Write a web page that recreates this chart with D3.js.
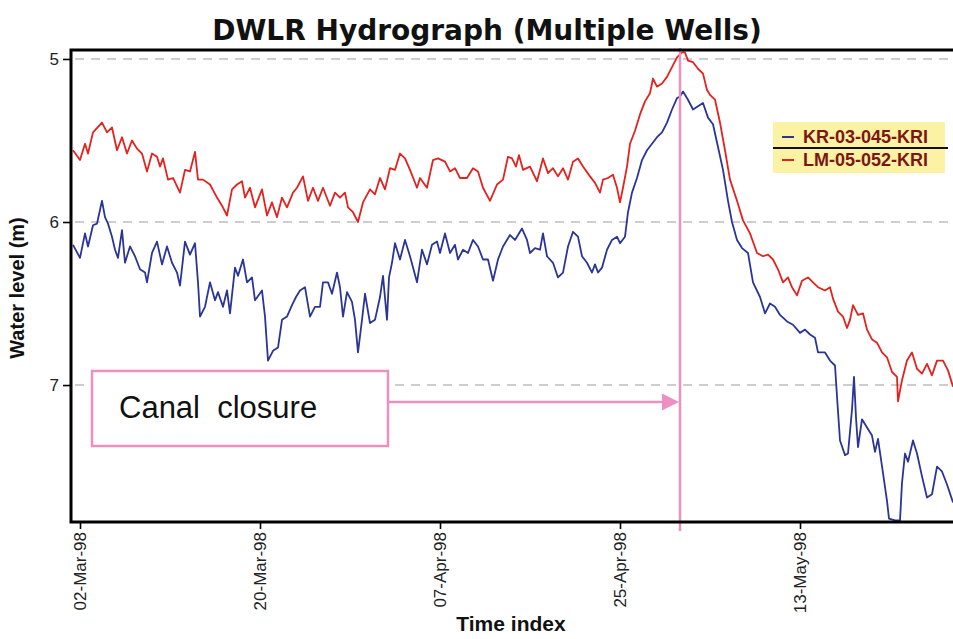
<!DOCTYPE html>
<html>
<head>
<meta charset="utf-8">
<script src="https://cdn.jsdelivr.net/npm/d3@7"></script>
<style>
  body { margin: 0; background: #fff; }
  svg { display: block; }
  .tick text { font-family: "Liberation Sans", Arial, sans-serif; }
</style>
</head>
<body>
<script>
// DWLR hydrograph, two wells, with the canal closure marker
(function() {
  var width  = 953,
      height = 639,
      left   = 71,
      top    = 50,
      right  = 953,
      bottom = 522;

  // Wells shown in the legend
  var wellNames  = ["KR-03-045-KRI", "LM-05-052-KRI"],
      wellColors = ["#2a3596", "#e3221f"];

  // Time index ticks and the closure date
  var tickDates   = ["1998-03-02", "1998-03-20", "1998-04-07", "1998-04-25", "1998-05-13"],
      closureDate = "1998-05-01",
      levelTicks  = [5, 6, 7];

  // KR-03-045-KRI : days after 02-Mar-98 and water level (m)
  var kriDay = [
    -0.7, 0.0, 0.5, 0.8, 1.3, 1.7, 2.2, 2.5, 2.8, 3.2,
    3.5, 3.8, 4.2, 4.5, 5.0, 5.5, 6.0, 6.5, 6.7, 7.2,
    7.7, 8.2, 8.7, 9.2, 9.7, 10.0, 10.5, 11.0, 11.5, 11.8,
    12.0, 12.5, 13.0, 13.5, 13.8, 14.3, 14.7, 15.0, 15.5, 15.8,
    16.3, 16.7, 17.2, 17.5, 18.2, 18.5, 18.8, 19.3, 19.8, 20.2,
    20.7, 21.2, 21.6, 22.0, 22.5, 23.0, 23.5, 24.0, 24.3, 24.8,
    25.2, 25.7, 26.0, 26.3, 26.7, 27.2, 27.5, 27.8, 28.2, 28.5,
    29.0, 29.5, 30.0, 30.3, 30.7, 30.9, 31.2, 31.5, 32.0, 32.5,
    33.0, 33.7, 34.2, 34.7, 35.2, 35.7, 36.0, 36.5, 37.0, 37.5,
    37.8, 38.3, 38.8, 39.3, 39.8, 40.3, 40.8, 41.3, 41.8, 42.3,
    43.0, 43.5, 44.0, 44.2, 44.7, 45.0, 45.5, 46.0, 46.3, 46.7,
    47.3, 47.8, 48.3, 48.8, 49.3, 49.8, 50.2, 50.7, 51.2, 51.5,
    51.8, 52.2, 52.7, 53.2, 53.7, 54.0, 54.5, 54.8, 55.2, 55.7,
    56.2, 56.7, 57.2, 57.7, 58.2, 58.7, 59.2, 59.7, 60.0, 60.3,
    60.8, 61.3, 61.8, 62.3, 62.8, 63.3, 63.8, 64.3, 64.8, 65.2,
    65.7, 66.2, 66.8, 67.3, 68.0, 68.5, 69.0, 69.5, 70.0, 70.7,
    71.3, 72.0, 72.5, 73.0, 73.5, 73.8, 74.5, 75.0, 75.5, 75.7,
    76.0, 76.5, 76.8, 77.2, 77.4, 77.6, 77.8, 78.2, 78.7, 79.2,
    79.5, 79.8, 80.3, 80.7, 80.9, 81.5, 82.0, 82.2, 82.5, 82.8,
    83.3, 83.7, 84.2, 84.7, 85.2, 85.7, 86.2, 86.7, 87.3
  ];
  var kriLevel = [
    6.14, 6.22, 6.07, 6.15, 6.02, 6.01, 5.87, 5.97, 6.01, 6.09,
    6.17, 6.22, 6.05, 6.25, 6.15, 6.21, 6.29, 6.31, 6.37, 6.19,
    6.12, 6.26, 6.15, 6.25, 6.31, 6.39, 6.12, 6.20, 6.13, 6.37,
    6.58, 6.52, 6.37, 6.48, 6.43, 6.52, 6.42, 6.56, 6.28, 6.33,
    6.23, 6.37, 6.34, 6.48, 6.42, 6.58, 6.85, 6.79, 6.77, 6.60,
    6.58, 6.51, 6.46, 6.42, 6.40, 6.58, 6.52, 6.52, 6.37, 6.37,
    6.44, 6.31, 6.40, 6.58, 6.43, 6.49, 6.60, 6.80, 6.60, 6.44,
    6.62, 6.60, 6.46, 6.33, 6.60, 6.34, 6.25, 6.13, 6.23, 6.11,
    6.21, 6.37, 6.17, 6.26, 6.14, 6.12, 6.19, 6.07, 6.19, 6.14,
    6.23, 6.17, 6.19, 6.11, 6.15, 6.23, 6.23, 6.36, 6.23, 6.15,
    6.08, 6.11, 6.06, 6.04, 6.11, 6.19, 6.16, 6.17, 6.07, 6.21,
    6.25, 6.34, 6.31, 6.15, 6.06, 6.09, 6.21, 6.25, 6.31, 6.26,
    6.31, 6.28, 6.17, 6.11, 6.09, 6.13, 6.09, 5.94, 5.82, 5.73,
    5.62, 5.56, 5.52, 5.48, 5.45, 5.39, 5.31, 5.24, 5.23, 5.20,
    5.25, 5.31, 5.29, 5.27, 5.36, 5.40, 5.54, 5.68, 5.87, 6.00,
    6.11, 6.16, 6.19, 6.37, 6.46, 6.56, 6.50, 6.52, 6.57, 6.61,
    6.63, 6.68, 6.66, 6.69, 6.71, 6.80, 6.80, 6.85, 6.88, 7.07,
    7.34, 7.43, 7.42, 7.15, 6.95, 7.20, 7.38, 7.21, 7.26, 7.31,
    7.41, 7.33, 7.54, 7.71, 7.82, 7.83, 7.83, 7.60, 7.42, 7.47,
    7.34, 7.42, 7.56, 7.69, 7.67, 7.50, 7.53, 7.61, 7.72
  ];

  // LM-05-052-KRI : days after 02-Mar-98 and water level (m)
  var lmDay = [
    -0.7, 0.0, 0.5, 0.8, 1.3, 2.2, 2.7, 3.2, 3.7, 4.2,
    4.7, 5.2, 5.7, 6.2, 6.7, 7.2, 7.7, 8.0, 8.3, 8.8,
    9.3, 10.0, 10.5, 11.0, 11.5, 11.8, 12.3, 13.0, 13.7, 14.2,
    14.7, 15.2, 15.7, 16.2, 16.5, 17.0, 17.5, 18.2, 18.7, 19.2,
    19.7, 20.2, 20.7, 21.3, 21.7, 22.3, 22.8, 23.3, 23.8, 24.3,
    25.0, 25.5, 26.0, 26.5, 26.8, 27.3, 27.8, 28.3, 29.0, 29.5,
    30.0, 30.5, 31.0, 31.5, 32.0, 32.5, 33.0, 33.7, 34.0, 34.7,
    35.3, 35.8, 36.5, 37.0, 37.5, 38.0, 38.7, 39.3, 39.8, 40.3,
    41.0, 41.7, 42.3, 42.8, 43.2, 43.6, 43.9, 44.3, 45.0, 45.7,
    46.3, 46.8, 47.3, 47.8, 48.3, 48.8, 49.3, 49.8, 50.3, 51.0,
    51.5, 52.0, 52.3, 52.8, 53.3, 53.7, 54.0, 54.3, 54.7, 55.0,
    55.5, 56.0, 56.5, 57.0, 57.3, 57.7, 58.2, 58.7, 59.2, 59.7,
    60.2, 60.5, 60.8, 61.3, 61.8, 62.3, 62.7, 63.0, 63.5, 64.0,
    64.5, 65.0, 65.7, 66.3, 67.0, 67.7, 68.3, 68.8, 69.3, 69.8,
    70.3, 70.8, 71.2, 71.7, 72.2, 72.8, 73.3, 73.8, 74.5, 75.0,
    75.3, 75.8, 76.3, 76.7, 77.0, 77.3, 77.8, 78.3, 78.7, 79.2,
    79.7, 80.2, 80.7, 81.2, 81.7, 81.8, 82.2, 82.7, 83.2, 83.7,
    84.2, 84.7, 85.2, 85.7, 86.3, 86.8, 87.3
  ];
  var lmLevel = [
    5.56, 5.62, 5.52, 5.58, 5.45, 5.39, 5.45, 5.42, 5.56, 5.48,
    5.58, 5.50, 5.55, 5.58, 5.69, 5.58, 5.60, 5.66, 5.61, 5.74,
    5.73, 5.82, 5.68, 5.69, 5.57, 5.74, 5.74, 5.77, 5.85, 5.90,
    5.96, 5.80, 5.77, 5.75, 5.85, 5.79, 5.91, 5.80, 5.96, 5.88,
    5.97, 5.85, 5.91, 5.82, 5.79, 5.72, 5.87, 5.79, 5.87, 5.79,
    5.90, 5.82, 5.85, 5.82, 5.91, 5.94, 6.00, 5.88, 5.80, 5.83,
    5.73, 5.80, 5.67, 5.68, 5.58, 5.61, 5.68, 5.79, 5.73, 5.79,
    5.62, 5.61, 5.63, 5.69, 5.67, 5.73, 5.73, 5.67, 5.69, 5.79,
    5.87, 5.77, 5.74, 5.60, 5.61, 5.66, 5.59, 5.68, 5.66, 5.75,
    5.61, 5.70, 5.67, 5.72, 5.67, 5.74, 5.63, 5.61, 5.66, 5.72,
    5.76, 5.82, 5.74, 5.73, 5.71, 5.79, 5.88, 5.79, 5.66, 5.52,
    5.44, 5.34, 5.26, 5.21, 5.12, 5.17, 5.15, 5.11, 5.05, 4.99,
    4.96, 4.96, 5.01, 5.02, 5.06, 5.09, 5.19, 5.22, 5.25, 5.39,
    5.56, 5.74, 5.87, 5.99, 6.07, 6.19, 6.21, 6.20, 6.23, 6.29,
    6.37, 6.34, 6.40, 6.45, 6.36, 6.34, 6.37, 6.40, 6.42, 6.40,
    6.47, 6.55, 6.58, 6.65, 6.60, 6.51, 6.57, 6.56, 6.66, 6.72,
    6.74, 6.80, 6.83, 6.92, 6.95, 7.10, 6.97, 6.85, 6.80, 6.90,
    6.93, 6.87, 6.94, 6.85, 6.85, 6.91, 7.01
  ];

  var parse = d3.utcParse("%Y-%m-%d"),
      fmt   = d3.utcFormat("%d-%b-%y"),
      base  = parse(tickDates[0]);

  function dayToDate(d) {
    return new Date(base.getTime() + d * 864e5);
  }

  var series = [
    { name: wellNames[0], color: wellColors[0], days: kriDay, levels: kriLevel },
    { name: wellNames[1], color: wellColors[1], days: lmDay,  levels: lmLevel }
  ];

  var x = d3.scaleUtc()
      .domain([dayToDate(-0.9), dayToDate(87.3)])
      .range([left, right]);

  var y = d3.scaleLinear()
      .domain([4.945, 7.84])
      .range([top, bottom]);

  var svg = d3.select("body").append("svg")
      .attr("width", width)
      .attr("height", height);

  svg.append("defs").append("clipPath")
      .attr("id", "plotClip")
    .append("rect")
      .attr("x", left)
      .attr("y", top)
      .attr("width", right - left)
      .attr("height", bottom - top);

  // dashed grid at each level tick
  svg.append("g").selectAll("line")
      .data(levelTicks)
    .enter().append("line")
      .attr("x1", left + 4)
      .attr("x2", right)
      .attr("y1", function(d) { return y(d); })
      .attr("y2", function(d) { return y(d); })
      .attr("stroke", "#bdbdbd")
      .attr("stroke-width", 1.6)
      .attr("stroke-dasharray", "9,7");

  // the two hydrographs
  var line = d3.line()
      .x(function(d) { return x(d[0]); })
      .y(function(d) { return y(d[1]); });

  svg.append("g")
      .attr("clip-path", "url(#plotClip)")
    .selectAll("path")
      .data(series)
    .enter().append("path")
      .attr("d", function(s) {
        return line(s.days.map(function(d, i) { return [dayToDate(d), s.levels[i]]; }));
      })
      .attr("fill", "none")
      .attr("stroke", function(s) { return s.color; })
      .attr("stroke-width", 1.8)
      .attr("stroke-linejoin", "round");

  // canal closure marker
  var pink = "#ee8fc1",
      cx = x(parse(closureDate));

  svg.append("line")
      .attr("x1", cx).attr("x2", cx)
      .attr("y1", top - 2).attr("y2", bottom + 9)
      .attr("stroke", pink)
      .attr("stroke-width", 2.5);

  svg.append("rect")
      .attr("x", 92).attr("y", 371)
      .attr("width", 296).attr("height", 75)
      .attr("fill", "#fff")
      .attr("stroke", pink)
      .attr("stroke-width", 2.5);

  svg.append("text")
      .attr("x", 119).attr("y", 418)
      .attr("font-family", "Liberation Sans, Arial, sans-serif")
      .attr("font-size", 31)
      .attr("fill", "#111")
      .style("white-space", "pre")
      .text("Canal  closure");

  svg.append("line")
      .attr("x1", 388).attr("x2", cx - 16)
      .attr("y1", 402).attr("y2", 402)
      .attr("stroke", pink)
      .attr("stroke-width", 2.5);

  svg.append("path")
      .attr("d", "M" + (cx - 1) + ",402 L" + (cx - 18) + ",393.5 L" + (cx - 18) + ",410.5 Z")
      .attr("fill", pink);

  // axes
  var xAxis = d3.axisBottom(x)
      .tickValues(tickDates.map(parse))
      .tickFormat(fmt)
      .tickSize(7)
      .tickSizeOuter(0);

  var gx = svg.append("g")
      .attr("transform", "translate(0," + bottom + ")")
      .call(xAxis);
  gx.select(".domain").remove();
  gx.selectAll(".tick line").attr("stroke", "#000").attr("stroke-width", 1.6);
  gx.selectAll(".tick text")
      .attr("font-size", 17)
      .attr("fill", "#222")
      .attr("transform", "rotate(-90)")
      .attr("text-anchor", "end")
      .attr("x", -10)
      .attr("y", 0)
      .attr("dy", "0.35em");

  var yAxis = d3.axisLeft(y)
      .tickValues(levelTicks)
      .tickFormat(d3.format("d"))
      .tickSize(8)
      .tickSizeOuter(0);

  var gy = svg.append("g")
      .attr("transform", "translate(" + left + ",0)")
      .call(yAxis);
  gy.select(".domain").remove();
  gy.selectAll(".tick line").attr("stroke", "#000").attr("stroke-width", 1.6);
  gy.selectAll(".tick text")
      .attr("font-size", 17)
      .attr("fill", "#222")
      .attr("x", -12);

  // frame: left, top, bottom (right edge is cut off)
  svg.append("path")
      .attr("d", "M" + right + "," + top + " L" + left + "," + top +
                 " L" + left + "," + bottom + " L" + right + "," + bottom)
      .attr("fill", "none")
      .attr("stroke", "#000")
      .attr("stroke-width", 3);

  // titles
  svg.append("text")
      .attr("x", 487).attr("y", 40)
      .attr("text-anchor", "middle")
      .attr("font-family", "DejaVu Sans, Verdana, sans-serif")
      .attr("font-weight", "bold")
      .attr("font-size", 28)
      .attr("fill", "#111")
      .text("DWLR Hydrograph (Multiple Wells)");

  svg.append("text")
      .attr("x", 511).attr("y", 631)
      .attr("text-anchor", "middle")
      .attr("font-family", "Liberation Sans, Arial, sans-serif")
      .attr("font-weight", "bold")
      .attr("font-size", 21)
      .attr("fill", "#111")
      .text("Time index");

  svg.append("text")
      .attr("transform", "translate(24,288) rotate(-90)")
      .attr("text-anchor", "middle")
      .attr("font-family", "Liberation Sans, Arial, sans-serif")
      .attr("font-weight", "bold")
      .attr("font-size", 20)
      .attr("fill", "#111")
      .text("Water level (m)");

  // legend
  var legend = svg.append("g").attr("transform", "translate(773,122)");

  legend.append("rect")
      .attr("width", 172).attr("height", 51)
      .attr("fill", "#fbf2a4");

  legend.append("line")
      .attr("x1", 0).attr("x2", 175)
      .attr("y1", 26).attr("y2", 26)
      .attr("stroke", "#111")
      .attr("stroke-width", 2);

  var rows = legend.selectAll(".row")
      .data(series)
    .enter().append("g")
      .attr("class", "row")
      .attr("transform", function(d, i) { return "translate(0," + (15 + i * 23) + ")"; });

  rows.append("line")
      .attr("x1", 9).attr("x2", 21)
      .attr("stroke", function(d) { return d.color; })
      .attr("stroke-width", 2);

  rows.append("text")
      .attr("x", 30)
      .attr("dy", "0.36em")
      .attr("font-family", "Liberation Sans, Arial, sans-serif")
      .attr("font-weight", "bold")
      .attr("font-size", 18)
      .attr("fill", "#7d1515")
      .text(function(d) { return d.name; });
})();
</script>
</body>
</html>
